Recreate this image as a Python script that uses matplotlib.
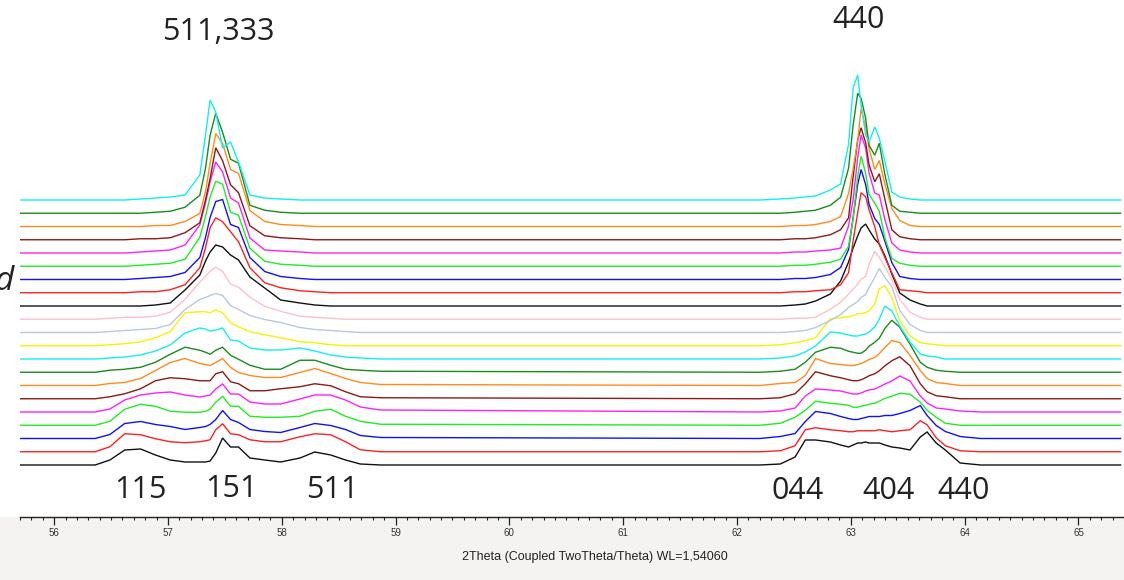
import matplotlib
matplotlib.use("Agg")
import matplotlib.pyplot as plt
from matplotlib.patches import Rectangle
from matplotlib.ticker import MultipleLocator

# scan colours, bottom scan first (EVA default palette)
COLORS = ["#111111", "#ff2020", "#1010ff", "#20ee20", "#ff20ff", "#8b1a1a", "#ff8c1a",
          "#1a8c1a", "#10f0f0", "#f5f500", "#b8c8e0", "#ffc0cb",
          "#111111", "#ff2020", "#1010ff", "#20ee20", "#ff20ff", "#8b1a1a", "#ff8c1a",
          "#1a8c1a", "#10f0f0"]

X_START = 55.70
X_END = 65.37
BASE = 52.0      # baseline of the lowest scan
STEP = 13.25     # vertical offset between scans

# 2theta grid around the 511/333 group
LEFT_X = [56.36, 56.49, 56.62, 56.76, 56.89, 57.02, 57.15, 57.28, 57.33, 57.37, 57.42,
          57.48, 57.55, 57.62, 57.72, 57.85, 57.99, 58.16, 58.29, 58.43, 58.56, 58.69, 58.87]
# intensity above each scan's baseline (first point is the baseline)
LEFT_H = [
    [0, 5, 15, 16, 10, 5, 3, 3, 3, 4, 12, 27, 18, 18, 7, 5, 3, 7, 13, 10, 5, 1, 0],
    [0, 5, 18, 17, 13, 10, 9, 10, 11, 12, 22, 28, 18, 17, 12, 10, 10, 15, 18, 17, 10, 2, 0],
    [0, 4, 15, 17, 14, 12, 9, 11, 12, 14, 19, 28, 19, 16, 9, 7, 6, 11, 15, 13, 9, 3, 1],
    [0, 4, 16, 21, 19, 14, 13, 13, 14, 16, 23, 29, 19, 19, 9, 8, 8, 9, 14, 16, 9, 4, 1],
    [0, 3, 12, 17, 19, 20, 17, 15, 16, 17, 23, 28, 18, 18, 10, 8, 8, 13, 17, 17, 12, 5, 2],
    [0, 2, 5, 10, 18, 21, 20, 18, 18, 18, 25, 27, 17, 15, 8, 8, 10, 12, 15, 13, 7, 2, 1],
    [0, 2, 3, 7, 15, 23, 27, 22, 21, 20, 23, 27, 18, 13, 10, 8, 8, 13, 17, 12, 7, 3, 1],
    [0, 2, 3, 5, 10, 18, 25, 22, 20, 18, 22, 25, 17, 13, 7, 3, 3, 12, 12, 7, 3, 2, 1],
    [0, 1, 2, 4, 8, 14, 26, 31, 30, 28, 29, 31, 19, 18, 11, 9, 9, 11, 8, 4, 2, 1, 0],
    [0, 1, 2, 4, 8, 14, 33, 34, 34, 33, 36, 33, 23, 19, 14, 11, 8, 4, 3, 1, 0, 0, 0],
    [0, 1, 2, 3, 4, 8, 23, 33, 35, 37, 39, 37, 27, 23, 17, 13, 10, 5, 3, 2, 1, 0, 0],
    [0, 1, 2, 2, 3, 7, 20, 37, 43, 48, 52, 48, 35, 32, 22, 13, 8, 3, 2, 1, 0, 0, 0],
    [0, 0, 0, 0, 1, 3, 16, 31, 45, 54, 61, 59, 51, 46, 29, 18, 6, 3, 1, 0, 0, 0, 0],
    [0, 0, 0, 1, 1, 3, 8, 25, 45, 65, 75, 71, 61, 51, 25, 10, 5, 2, 1, 0, 0, 0, 0],
    [0, 0, 0, 1, 2, 3, 7, 22, 42, 62, 78, 80, 55, 52, 22, 8, 3, 1, 0, 0, 0, 0, 0],
    [0, 0, 0, 1, 2, 3, 7, 29, 50, 69, 85, 82, 54, 51, 18, 5, 2, 1, 0, 0, 0, 0, 0],
    [0, 0, 0, 1, 2, 3, 8, 28, 50, 71, 91, 81, 55, 50, 15, 3, 2, 1, 0, 0, 0, 0, 0],
    [0, 0, 0, 1, 1, 2, 7, 17, 40, 61, 92, 79, 55, 47, 14, 4, 2, 1, 0, 0, 0, 0, 0],
    [0, 0, 0, 0, 1, 1, 5, 13, 35, 63, 93, 83, 57, 53, 16, 5, 2, 1, 0, 0, 0, 0, 0],
    [0, 0, 0, 0, 1, 2, 6, 18, 45, 78, 100, 81, 54, 50, 8, 3, 1, 0, 0, 0, 0, 0, 0],
    [0, 0, 0, 1, 2, 3, 5, 25, 65, 100, 88, 52, 58, 38, 5, 2, 1, 0, 0, 0, 0, 0, 0],
]

# 2theta grid around the 044/404/440 group
RIGHT_X = [62.20, 62.38, 62.51, 62.60, 62.69, 62.82, 62.91, 62.98, 63.02, 63.06, 63.09,
           63.13, 63.16, 63.21, 63.25, 63.30, 63.36, 63.43, 63.52, 63.61, 63.67, 63.75,
           63.83, 63.96, 64.14]
RIGHT_H = [
    [0, 1, 8, 25, 25, 23, 20, 18, 20, 22, 22, 23, 22, 22, 22, 20, 18, 17, 15, 28, 33, 22, 15, 2, 0],
    [0, 1, 6, 22, 24, 22, 21, 20, 20, 21, 21, 21, 21, 21, 22, 21, 20, 21, 22, 31, 27, 14, 6, 1, 0],
    [0, 2, 5, 17, 27, 25, 22, 20, 19, 19, 20, 21, 22, 22, 22, 23, 23, 25, 28, 33, 23, 13, 7, 2, 0],
    [0, 2, 8, 15, 24, 22, 21, 20, 18, 18, 19, 20, 21, 22, 24, 27, 29, 32, 31, 23, 15, 8, 2, 0, 0],
    [0, 1, 4, 16, 23, 22, 21, 19, 18, 18, 19, 21, 22, 23, 25, 28, 31, 36, 31, 16, 9, 4, 3, 1, 0],
    [0, 1, 5, 15, 27, 23, 21, 19, 18, 18, 19, 21, 23, 25, 28, 33, 38, 42, 33, 15, 7, 3, 2, 0, 0],
    [0, 2, 3, 10, 27, 22, 21, 20, 20, 21, 22, 24, 26, 28, 32, 38, 45, 43, 30, 15, 7, 3, 2, 0, 0],
    [0, 1, 3, 10, 20, 25, 24, 21, 20, 19, 19, 22, 26, 30, 34, 44, 52, 45, 28, 10, 5, 2, 1, 0, 0],
    [0, 1, 3, 7, 13, 27, 26, 24, 23, 23, 24, 25, 27, 32, 40, 53, 48, 33, 17, 5, 3, 2, 0, 0, 0],
    [0, 1, 3, 5, 8, 27, 28, 29, 30, 32, 32, 33, 35, 42, 57, 60, 48, 25, 10, 3, 2, 1, 0, 0, 0],
    [0, 0, 1, 2, 5, 12, 18, 25, 28, 31, 35, 38, 45, 55, 64, 55, 46, 22, 8, 2, 0, 0, 0, 0, 0],
    [0, 0, 1, 1, 2, 10, 17, 25, 30, 35, 40, 43, 55, 68, 62, 52, 40, 20, 7, 2, 0, 0, 0, 0, 0],
    [0, 0, 1, 2, 5, 12, 25, 44, 58, 70, 78, 82, 76, 67, 62, 50, 32, 13, 6, 2, 0, 0, 0, 0, 0],
    [0, 0, 1, 1, 2, 3, 8, 20, 52, 80, 100, 96, 83, 66, 48, 35, 20, 3, 2, 1, 0, 0, 0, 0, 0],
    [0, 0, 1, 1, 2, 5, 12, 30, 62, 95, 110, 95, 75, 61, 55, 38, 17, 3, 1, 0, 0, 0, 0, 0, 0],
    [0, 0, 1, 1, 2, 4, 7, 20, 47, 90, 110, 93, 72, 63, 55, 28, 8, 3, 1, 0, 0, 0, 0, 0, 0],
    [0, 0, 1, 1, 2, 3, 5, 27, 53, 95, 118, 105, 80, 60, 58, 33, 10, 3, 1, 0, 0, 0, 0, 0, 0],
    [0, 0, 1, 1, 2, 5, 10, 22, 63, 100, 112, 97, 75, 58, 66, 40, 10, 3, 1, 0, 0, 0, 0, 0, 0],
    [0, 0, 1, 1, 2, 5, 10, 33, 58, 85, 118, 100, 78, 57, 66, 42, 18, 6, 1, 0, 0, 0, 0, 0, 0],
    [0, 0, 1, 2, 3, 8, 16, 45, 88, 120, 115, 95, 68, 58, 70, 38, 8, 2, 1, 0, 0, 0, 0, 0, 0],
    [0, 1, 2, 3, 4, 10, 16, 56, 112, 125, 95, 65, 58, 73, 62, 38, 8, 3, 1, 0, 0, 0, 0, 0, 0],
]

# reflection labels: (text, 2theta, height)
LABELS = [("511,333", 57.44, 485), ("440", 63.07, 497),
          ("115", 56.76, 27), ("151", 57.56, 28), ("511", 58.44, 27),
          ("044", 62.53, 26), ("404", 63.33, 26), ("440", 63.99, 26)]

XLABEL = "2Theta (Coupled TwoTheta/Theta) WL=1,54060"

fig = plt.figure(figsize=(11.24, 5.8), dpi=100)
fig.patch.set_facecolor("white")
fig.add_artist(Rectangle((0, 0), 1, 63 / 580, transform=fig.transFigure,
                         facecolor="#f4f3f1", edgecolor="none", zorder=0))

ax = fig.add_axes([20 / 1124, 63 / 580, 1104 / 1124, 517 / 580])
ax.set_facecolor("white")

for i, color in enumerate(COLORS):
    xs = [X_START] + LEFT_X + RIGHT_X + [X_END]
    ys = [0] + LEFT_H[i] + RIGHT_H[i] + [0]
    ys = [BASE + STEP * i + v for v in ys]
    ax.plot(xs, ys, color=color, lw=1.0, solid_joinstyle="miter", zorder=2 + i)

ax.set_xlim(55.70, 65.40)
ax.set_ylim(0, 517)

for s in ["top", "left", "right"]:
    ax.spines[s].set_visible(False)
ax.spines["bottom"].set_linewidth(1.0)
ax.spines["bottom"].set_color("#222222")
ax.set_yticks([])
ax.xaxis.set_major_locator(MultipleLocator(1))
ax.xaxis.set_minor_locator(MultipleLocator(0.1))
ax.tick_params(axis="x", which="major", direction="out", length=5.5, width=0.9,
               color="#222222", pad=2.5, labelsize=7, labelcolor="#333333")
ax.tick_params(axis="x", which="minor", direction="out", length=2.2, width=0.8,
               color="#222222")
for lab in ax.get_xticklabels():
    lab.set_family("Liberation Sans")
ax.set_xticks(range(56, 66))

for txt, x, y in LABELS:
    ax.text(x, y, txt, ha="center", va="center", fontsize=22,
            family="Open Sans", color="#222222", zorder=40)

fig.text(595 / 1124, 23 / 580, XLABEL, ha="center", va="center", fontsize=9,
         family="Liberation Sans", color="#222222")
fig.text(-6 / 1124, 298 / 580, "d", ha="left", va="center", fontsize=24,
         style="italic", family="Open Sans", color="#222222")

fig.savefig("out.png", dpi=100)
